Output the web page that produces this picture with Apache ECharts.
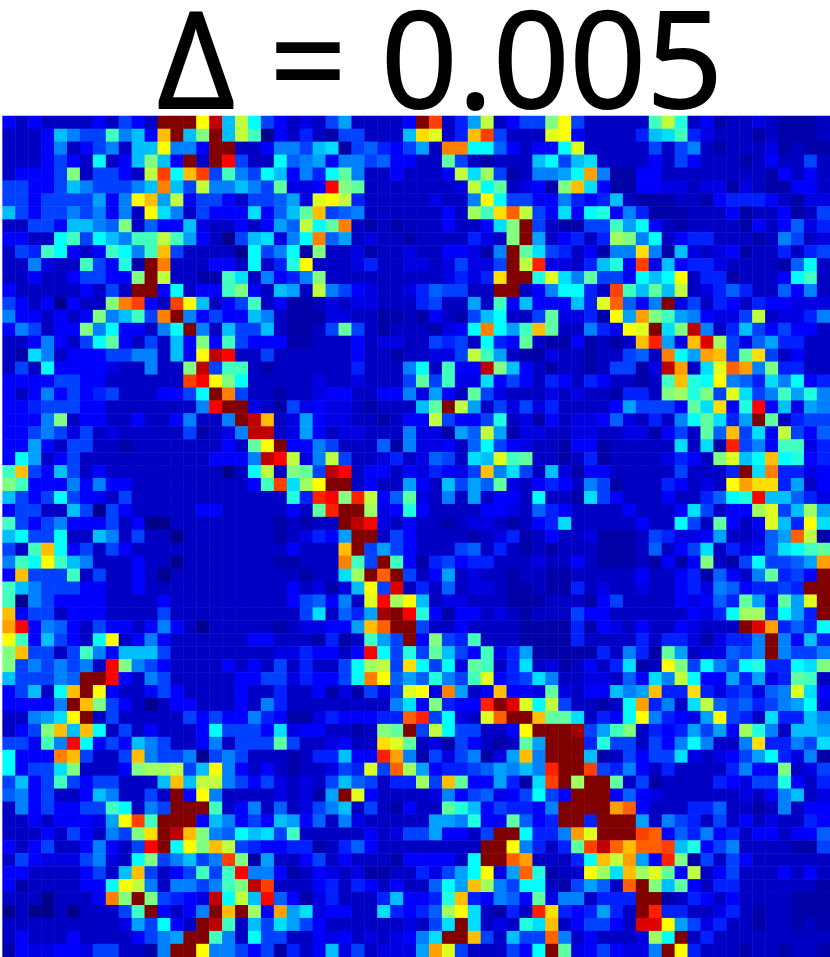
<!DOCTYPE html>
<html>
<head>
<meta charset="utf-8">
<title>heatmap</title>
<script src="https://cdn.jsdelivr.net/npm/echarts@6/dist/echarts.min.js"></script>
<style>
html, body { margin: 0; padding: 0; background: #fff; }
#main { width: 830px; height: 957px; }
</style>
</head>
<body>
<div id="main"></div>
<script>
const titleText = 'Δ = 0.005'
// jet colour stops, one per level 0..16 (low end lifted a little to match the picture)
const jet = ['#00008c','#0000c4','#0000ff','#0040ff','#0080ff','#00bfff','#00ffff','#40ffbf','#80ff80','#bfff40','#ffff00','#ffbf00','#ff8000','#ff4000','#ff0000','#bf0000','#800000']
// levels, one line per row, top row first
const cells = [
[2,1,2,1,1,1,1,2,1,3,2,1,16,16,16,10,15,5,9,6,3, 2,1,1.5,1,3,4.5,1,1,1,1,2,16,13,1,2.5,4.5,9,1,2,3,3, 8,10,3,1,1,1,1,1,7,9,6.5,1,2,.5,1,1,1.5,1,.5,.5,.5,1],
[1,1,1,2,5,4,3,3,7,4,5,2,11,16,5,8,16,5,9,7,0, 2,1,2.5,1,.5,3,3,1,1,1,5,10.5,9.5,1,2.5,11,13,3,1,1,1, 9.5,10,2,1,1,1,1,2.5,5,5.5,7,2.5,1.5,1,1,1,.5,1,.5,.5,.5,1],
[1,1,1,2,4,1,2,3,4,1,5,5,10,4,4,2,16,16,1,1,2, 4,4,3,5,5.5,.5,3,3.5,2.5,2,3,4.5,1,12,12,6,6,3.5,2,1,2, 2,6,9.5,1,1,1,1,1,3,1,3,4,1,.5,1,1,1,1.5,.5,1,.5,.5],
[1,1,1,2,3,2,1,6,1,2,5,8,5,2,16,1,16,14,3,1,1, 6,3.5,4,4.5,2,4,4,3,3.5,2,2,1,1,7.5,3,1,.5,1,1,1,5, 6,3,5,5.5,1,1,1,1,2,1,3,2,1,1,1,.5,1,2,1,1,3,1],
[1,2,2,2,3,8,1,3,3,2,1,9,13,6,11,13,3,7,4,3,6, 5,2,4,2.5,6,7.5,4,1,1,2,1,1,1,2,9,5.5,8.5,3,.5,1,4, 4,4.5,6,11.5,4,.5,.5,2,2,1,1,1,1,1,1,1,1,.5,2,1,2,1],
[3,3,2,2,3,5,4,3,3,3,4,5,12,5,3,9,4,4,5,4,3, 7.5,1.5,1.5,2,14,8,7.5,1,1,1,1,1,1,1,1.5,9,6,7.5,1,1.5,2, .5,8,11,5.5,2,.5,.5,2,2,1.5,1.5,1,1.5,1.5,.5,1.5,1,.5,.5,2,2,1],
[3,3,2,3,3,3,3,4.5,2,4,10,11,4.5,9,2,3,3,2,1,3,3, 3.5,4.5,1.5,9.5,10,9,2.5,1,1,1,1,1,1.5,1,1,4,10,6,3,3,2, 2,4,2.5,2,2.5,5,1,.5,.5,.5,1,1,.5,2,2.5,2.5,2.5,2,1,.5,1.5,1.5],
[5,3,2,3,3,4,3,4,2,4,1,10,5.5,4,1,3,2,2,2,5.5,2, 3.5,5,7.5,11,3,3.5,4,1,1,1,1,1,1,2,1,8.5,7,10.5,12.5,9,3, 2,5.5,2,6,6.5,2,4,2.5,.5,.5,.5,1,1,1,2,.5,1,1,2,.5,1,3],
[1,1,3,3,2,5,5,4,3.5,8,1,3.5,2,2,5,1.5,1,1,2,1,2, 4.5,3.5,9,6,7.5,12,1,.5,1,.5,1,1,1,2,1,1,2,5.5,8,16,3, 1,.5,.5,3,3,7,4.5,6,2,1,.5,1,1,1,1,.5,2,1,2,3.5,1.5,2.5],
[2,2,1,1,6,7,3,6,5,4,7,7,9,7,4.5,2,1,0,3,5,5.5, 1.5,4,6,12,3.5,4.5,1,1.5,1,1,.5,1,1,1,1,2.5,1.5,1,8,16,4.5, 1,2,2.5,1,2.5,8.5,8,4,6,1,2,2.5,2.5,1,1,1,.5,1,4,3,1,1.5],
[1,3,2.5,7,6,2,1,2,7,6,4,7,11,3,1,1,1,1,0,6,3, 4,6,.5,8,1,1,1.5,.5,1,1,1.5,1,1,2,2,1.5,.5,4,16,7.5,5.5, 3,2.5,1,2,.5,4,4,10.5,4,.5,5,1.5,1,1.5,2,.5,1,1,2.5,1,2.5,3],
[1,1,4,1.5,1,1,7,3,2,6.5,.5,16,12,1,1,1,2,2,1,6,1, 2.5,6.5,10,1,1,1,1.5,2.5,1,1,1.5,1.5,1,1.5,3,1.5,1.5,3,16,9,13.5, 1.5,1.5,1,2.5,5,6.5,2,13,1.5,5,2,2.5,2.5,1.5,1,1,1,1,.5,3.5,6,1],
[1,1,2,1,1,2,3,3,2,2,8,16,9,1,1,.5,.5,7,5.5,1,4, 2,2.5,4,8,1,1,1,1,1,1,1,1,1,1.5,2.5,1.5,2.5,10.5,16,16,6.5, 9.5,5.5,4,7.5,3,3,2,6,5,6,10,1,2.5,2.5,.5,1,1,1,2,6,7,1],
[2,1,1,1,1,1,2,1,3,1,16,16,2,6,1,2,2,7,8,2,1, 5,4.5,1,9,4,3,2,1.5,1,1,1.5,2.5,3.5,3,3,1,1,16,16,1,2, 4,6,6,2.5,1,13,7,5,7.5,5,9,1,1.5,2.5,3.5,2.5,1,1,3.5,2,4,1],
[3,2,1,2,0,2,1,1,8,12,13,2,1,13,10,5,1,2,3,7,1, 2,.5,.5,1,1.5,1,1.5,1.5,1,1,1,2.5,3,1,1,4.5,1,7,2,5,2, 2,2,5,2.5,9.5,12.5,3.5,2,4,16,1.5,3,1,2.5,2,1,2.5,2,2,1.5,1.5,1.5],
[4,2,2,1,2,1,2,8,4,5,7,3,12,16,4,2,3,2,2,5,4, 1,.5,.5,.5,1.5,1.5,1,1,.5,.5,1,.5,2,1,.5,3,5,6,1,1,3, 7.5,1.5,1.5,2.5,.5,10,4.5,11.5,8,7,4.5,4,2,1.5,1.5,3,9,1,1.5,1.5,2.5,4],
[2,4,3,1,2,2,8,4,6,2,2,1,4,6,16,4,1,5,3,3,5, 1,.5,.5,1,3,7.5,3,1,.5,1,1,1,.5,1.5,2,6,12,6,4.5,7,11, 7.5,1,1,4,2.5,2,10,9.5,16,5.5,8,15,4,1,2.5,5,3,2,3,2,2,1],
[1,1,2,4,2,1,3,6,7.5,2,1,3,1,5,2,8,2,7,3,2,2, 2,.5,.5,1,1,1,2,1,1.5,1.5,1,1,3,2.5,3,1,6,2.5,2,7.5,1, .5,.5,2,.5,1,.5,1,11,13.5,4.5,1.5,11,14.5,8.5,3,1.5,3.5,4.5,2.5,2.5,1,1],
[1,.5,5.5,4,1,2,2,2,3,3,4,4,1,5,2,10,15,14,1,1,3, 1,1,1,1,1,1,2,1,1,.5,1,1,1.5,1.5,3,9,7,4.5,1,.5,.5, 1.5,1,1,.5,1,1,3,3.5,1,12,6,4.5,11.5,11,3,7.5,10.5,3,1,2,1,1],
[1,3,1,6,2,2,2,2,1.5,1,1,4,1,1,8,15,3,7,7,1,.5, 1,1,1,1,1,1,2.5,1,1,1,4,6,1,7,2,2,15,8,5,2,1, .5,1,1,.5,1,3,3,.5,1.5,15,11.5,1,5.5,9.5,12.5,11.5,4,8,2.5,2.5,1,1],
[2,2,2,2,3,3,2,2,1,1,1,1,1,1,13,14,10,8,6,1,1, 1,1,1,1.5,1,1,1.5,1,1,1,3,7.5,3,7,1.5,1.5,5.5,2,3,2,1, 2.5,2,1,2.5,2,1,1,.5,1,7,11,6.5,6,10,4,3.5,2.5,5.5,4,6,2,2.5],
[2,1,2,4,2,3,2,2.5,3,1,1,1,2,2,3,6,16,12,3,1,1, .5,1,1,1.5,2,2,1,1,2,2,4,1.5,4.5,2,1,7.5,3,1.5,1,1,1, 1.5,1,1.5,1,1,.5,2.5,2.5,1,8,8.5,6.5,8,3,9.5,5.5,3,4,7,4.5,6.5,4],
[2,2,2.5,3,3,3,2,2,1,1,1,1,1,1,1,4,14,16,16,1.5,1, .5,3,1.5,2,1.5,1.5,1,.5,1,1,1,5,7.5,16,9,4.5,1,3,1.5,3,1.5, 2.5,1,1,1,1,2,4.5,3,3,3,2,7.5,5.5,10.5,2,6.5,14,2,5,1.5,4.5,4],
[2,2,2,4,8,1,2,2,1,1,2,1,1,2,4,1,1,4,16,15,11, 1,1.5,4.5,2,1.5,1.5,1,1,.5,1,2,2,9,3,2,2,3,6.5,1,1.5,.5, 2,1,1.5,1.5,2,3.5,1.5,1,2.5,1,4,6,7.5,5.5,2.5,4.5,16,7.5,1,2.5,3,3],
[2,2,3,4,3,1.5,3,1,1.5,1,1,1,1,1,3,.5,1,1.5,4,15,15, 1,1.5,4.5,2,1,1.5,1.5,1,1,1,4,1.5,1.5,.5,4.5,3.5,9,4.5,.5,1.5,1.5, 1,1,1.5,1.5,1,1,1.5,1.5,.5,2,3,1,7.5,3.5,11,3,5.5,2,9,3,2,3.5],
[2,2,4.5,2,1,3,3,1,1,.5,1,1,1,1,1,1,1,2,1,7.5,10, 16,2,2,4,3,1,1,1,3.5,.5,4,1.5,1.5,2,1,3.5,6,3,2,1.5,1, 1,.5,2,2,.5,1,1,1,1,1,5.5,1,5.5,.5,13.5,3,4,2,7,7,1.5,2.5],
[2,6,4.5,1,2,3,1,1,1,1,1,1,1,1,1,1,2,2,2,4,15, 14,9,1.5,4,9,3,1,1,1.5,2.5,1,1.5,3.5,3,1,5.5,5,9.5,7,7.5,1, 1,.5,1,2.5,.5,1,1,1,1,1.5,2.5,2,1,8,9.5,5,6,11,6,6.5,2,2.5],
[7,11,3,2,5,3,1,2,1,1,1,1,1,1,1,1,1,0,1,6,9, 1,8,7.5,3,15,14,1,2,2,1,2,1.5,2.5,2,1.5,3,11,4,5.5,3,1, 5,1.5,.5,2,2,1,1,1,1,1,3,1,1,1,2.5,16,5.5,12,2.5,2.5,1.5,2],
[8,7,2,2,2,4,2,4,2,2,1,1,1,1,1,1,1,1,1,2,7, 13,5.5,8.5,10,16,16,1,2,1,1,4.5,2,1,5,3,4.5,3.5,7.5,1.5,1,2, 2.5,2,1,4,3,.5,1,1,1,2.5,2,1,1.5,1,10,11.5,10.5,10.5,2.5,4.5,1,2],
[5,3,2,3,6,3,2,2,1,3,1,1,1,1,1,1,1,1,1,1,1, 1,6.5,2.5,13.5,14,8,13.5,9,2,3.5,7.5,1.5,1,4,1,4.5,1,2,2,1,6, 1,1,.5,5.5,3,2,1,1,1,2,1,1,2.5,3.5,6,6.5,14,5,5,3.5,2.5,1.5],
[2,3,3,1,1,5,3,0,3,2,1,1,1,1,1,2,2,1,1,1,1, 1,2,1,7.5,13.5,16,16,8.5,1.5,2,6.5,2,1,1,1,1,2,2,1.5,1,3.5, 2.5,2,1,1,1,1,2,1,1,1,2,5.5,3,1,2,2,8.5,9.5,3,5,8.5,4.5],
[7,3,2,3,4,2,2,2,3,1,2,0,0,1,1,1,1,1,1,1,1, .5,1,.5,1,1,16,15,14,1.5,1,2,1,1,.5,1,1.5,1.5,1,.5,1,2, 2.5,5.5,1,1,1,1,1,2,1,1,6,3,1,7.5,2,1,2,9.5,5,2.5,10,5.5],
[5,6,3,3,6,1,1,5,4,1,3,1,1,0,1,1,1,1,1,1,1, .5,1,1.5,2.5,2,4.5,16,16,1,3,2,1,1,1,1,.5,1,1.5,2.5,.5,1, 2,1,1,1.5,.5,.5,.5,1,3,2.5,1.5,1.5,2,4.5,1,1,1.5,3.5,4.5,12.5,9,.5],
[3,1,7,11,6,2,3,1,3,2,1,1,1,1,1,1,1,1,1,1,1, 1,2,1,1,1,11,16,3,4.5,3,2,1,1,1,3,3.5,1,2.5,1,.5,1, .5,1,1,1,.5,.5,.5,1,3.5,1,2,3,5.5,1,2.5,1.5,2,3.5,5.5,6,7,7.5],
[4,7,6,10,7,5,4,1,1,1,2,1,1,0,1,1,1,1,1,1,1, .5,.5,1,1,1,12,7,3,16,7,2,.5,2.5,3,2,2.5,2.5,1,1,1,1.5, 1,1,2,1,.5,.5,.5,1,.5,2,.5,2,8,1,.5,3,6,3,3,3.5,4.5,11.5],
[2,11,3,3,3,7,1,3,1,1,2,1,0,1,1,1,1,1,1,1,1, 1,1,.5,1,1,5.5,8.5,16,12.5,16,3,1,2,4.5,1,1.5,1,1,.5,1,1, .5,.5,1,1,1,1,1,2,1,1,2,2.5,.5,3.5,2,1,4,7.5,2.5,3,2,16],
[7,5,4,3,3,3,2,2,1,1,2,1,1,1,1,1,1,1,1,1,1, 1,2,1,1.5,.5,1.5,5,10,3,14.5,1,2.5,1,3.5,1,1.5,1.5,1,.5,.5,1, .5,.5,2.5,1,1.5,1,1,1.5,1,1,2,2.5,1.5,4,3.5,2,2.5,2.5,3,2.5,16,16],
[7,0,4,3,2,2,2,2,1,1,1,1,2,1,1,1,1,1,1,1,1, 1,2,3,3.5,2,4,1,9.5,14,8.5,10,5,1,1.5,1.5,1,1,1,.5,.5,.5, 1,1,1,.5,2,3,1,1,1,1,2,1.5,2,3.5,2.5,7.5,4.5,2,7.5,4.5,9.5,16],
[11,2,3,3,1,2,2,2,1,1,1,1,3,1,1,1,1,1,1,1,1, 1,1,3,5.5,1,3.5,2.5,4.5,15.5,16,14,6.5,2,.5,2,2,1,1.5,1,.5,1, 1,1,3,2,2,1,1,1,1,1,1,2,1.5,2.5,6,8.5,8.5,2.5,6,4.5,2.5,16],
[11.5,14,2,4,3.5,2,1,3,2,2,1,2,4,2,1,0,1,1,1,1,1, .5,1,1.5,1.5,2,2,4.5,11,12.5,16,16,3,1,1,2,1,1,1,1,.5,.5, .5,.5,2.5,.5,2,1.5,1,2,1,1,2,1.5,1,1,1,16,14.5,11.5,2.5,3.5,2.5,6],
[10,7,2,5,3,2,1,6,10,1,2,4,2,1,1,1,1,1,1,2,2, 1,1,1,.5,2.5,.5,1,7,4.5,3,16,2,8,3,2.5,7,1,1,1,.5,.5, .5,.5,2.5,1,1,1,1,2.5,1,2.5,2.5,1.5,.5,1.5,2.5,2.5,4,16,4,2,5,2.5],
[8,11,3,3,1,3,7,4,2,5,5,5,3,1,1,1,1,1,1,1,1, 1.5,1.5,2.5,2,2,1,2,14,6,3,6.5,3,7.5,5,3,2,7,1.5,2.5,4.5,.5, .5,.5,.5,.5,2.5,1,4,2.5,.5,7.5,4.5,1,1.5,1.5,3.5,3,4,16,4,3,3,4],
[8,3,4,3,4,3,4,1,14,8,4,3,2,1,1,1,1,2,1,2,1, 3,1,2.5,1,1,3,6,8.5,9,3,10.5,6,3,6,1.5,7.5,7,1,2.5,5.5,1, 1.5,.5,1,2,1,2.5,5.5,.5,1,10,8,3,6,4,3,6,6.5,2.5,2.5,6,5.5,8],
[5,3,3,3,4,3.5,16,16,14,2,1,4,3,1,1,1,1,1,2,2,3, 3,1.5,2.5,2,2,3,6,12,10,3.5,4.5,3.5,6.5,4,3,7,9.5,2,2.5,3,5.5, 4,1,1,1.5,1.5,1,3.5,2,5.5,4,9,6,2,2,4.5,2.5,4.5,1.5,2.5,7.5,7,1],
[2,3,5,1,6,11,16,10,2,1,1,2,3,2,1,1,1,1,2,1,1, 2.5,1,1,2,.5,1.5,.5,3,1.5,3,9.5,10,1.5,12,4.5,1,2,11,2,2,1.5, 7.5,1.5,1,2,2,5,4,4.5,11,2.5,2.5,10.5,2.5,1.5,2.5,3,1.5,3.5,4,9.5,5.5,2],
[2,2,2,2,4,16,11,8,3,2,1,0,1,2,2,1,1,1,2,1,4, 2.5,1,1,1,1,1,1,1,1,4,5.5,2,8,2.5,2,2,13.5,16,14.5,9.5,6, 9,3,1,1,.5,1,6,11.5,2.5,4,1,5.5,9,3.5,3,3.5,2.5,3,4,4.5,6,1.5],
[1,1,4,4.5,5.5,10,16,1,3,1,1,1,1,1,3,2,3,2,2,4,2.5, 2,.5,.5,1.5,2.5,2,2,2,2.5,2.5,12.5,13.5,3,6,1.5,1,9.5,12.5,16,16,11, 7.5,7.5,5.5,1,2.5,2,6,10,4,2.5,2,1.5,4.5,10,3,2.5,1,5.5,2.5,2.5,5,4],
[1,2,3,8,11,5,11,6,1,3,1,2,1,1,1,2,6,3,3,3,2, 5.5,1.5,2,2,1,1,.5,1,8,7.5,16,3,9,6,3,3,1,1,2,10,16, 16,16,15.5,3,4.5,7,8,1,2.5,2,2.5,4.5,3,4.5,2,8.5,6.5,4,1,5,5,4.5],
[3,3,2,7,4,14,6,2,3,2,5,4,3,1,1,2,4,1,3,3,3, 7.5,3,1,1,1.5,2,1,1,10.5,9.5,7.5,1,1.5,.5,3,2,1,.5,1,7.5,4.5, 16,16,16,2.5,6.5,3,3,1,3,2,4,6,4,1,1,4,10.5,2.5,2.5,4,3,5.5],
[6,2,2,2,12,11,3,1,1,3,11,4,3,3,4,0,3,4,3,1,1, 1,.5,1,2.5,2.5,5,2,2,13.5,11.5,4,.5,3,1.5,3,4,.5,1.5,4.5,11,4, 16,16,16,5,.5,1,3,2,3,3,5.5,1.5,1,1.5,2,3,4.5,6,2.5,1.5,4,.5],
[6,2,3,3,5.5,8,1,1,1,2,8,8.5,8.5,9,3,5,10,4,2,1,2, 1,.5,1,1,1.5,3,2.5,9.5,3,12.5,8.5,4.5,2,2.5,2.5,3,3.5,4.5,4,5,4, 13.5,16,16,13,3,2.5,4,2,1,2.5,1,1,1,1,2.5,4,2,2,8,1,1.5,3],
[3,5,2,3,7,3,2,3,3,1,1,1,5,11,5,9,9,4,3,2,3, 1.5,1,1.5,1,3,5,3.5,3,1,2.5,2.5,8.5,3,11,7.5,2,2,4.5,2.5,.5,5.5, 13,16,8.5,16,16,7.5,1,3,.5,1,1,1,1,2.5,2,1.5,3,3,6.5,2,1,2.5],
[3.5,4,2,3,1,1,2,5,4,1,1,3,1,16,2,10,4,1,1,1,1, 1.5,1,1.5,.5,4.5,16,9.5,2,1,1,1,1,1.5,4,2,3,3.5,1.5,2,3,6, 3,2,16,16,16,2,3.5,2,1.5,1,1,1,1,1,1,1.5,1,2,4,5,1,1.5],
[1,4,2,3,2,2,3,3,7,6,1,4,3,16,16,16,7,1,2,4,1, 3.5,1,1.5,3,4,5,1,3,1,.5,2,1,1,7.5,6.5,5,2,3,2.5,2.5,2, 4,16,16,16,16,11.5,12.5,2,1,1,1,2.5,2.5,3.5,1,1,.5,1,4,1,2,2],
[1,1,2,1,2,2,2,1.5,4.5,10,13,7,16,16,16,2,5,4,2,3,2, 5,4.5,2,3.5,1,4,1.5,1,1,1,1,1,4.5,4.5,4,6.5,2,2,7.5,3.5,2, 2.5,16,16,2.5,16,16,16,4.5,1,4,3,2.5,1,3,1,2,1,1.5,1,1,2.5,2],
[1,1,1,2,1,3,2,1,4,3,8,10.5,16,15,11,8,4,3.5,6,5,5.5, 3,7,1,1,1,1,1,2,1,1.5,3,3,4.5,2,2,1,3,16,16,6,2.5, 2.5,4,11.5,9.5,16,16,16,13,12.5,2,3.5,2.5,4,2,2.5,1,2,2,1,2,2,3.5],
[2,1,2,3,1,1,2,4,2,1,3,14,16,6,10,8,11,9,3,2.5,2, 2,2.5,2.5,.5,1,2.5,3.5,2,1,1,1,1,1,1,1,1,16,16,10,4,2.5, 1,2.5,7.5,13,15,12.5,11,12.5,12.5,13,5,6.5,2,3,4,1,1,1,1,.5,.5,3],
[1,3,2,1.5,1.5,1.5,3,4,1.5,1,6,8,3,4,5,3,4,13,8,.5,4.5, 1,1,2,3,1,2,1,1,1,.5,2,2,2,2,1,6,16,16,12.5,11.5,1, 1,1,2.5,6,11,9,11.5,4.5,2,13.5,8,.5,3,1,3,2,1,1,1,1,1,1],
[2,2,1,1,1,1,2,3,1,5,11,3,1,2,3,7,3,7,14,4,4, 2,.5,1,2,1.5,1,1.5,.5,.5,1,1,2.5,1.5,3,4.5,6,10,1.5,4.5,12.5,6.5, .5,1,1,10,8.5,5.5,11,8.5,9.5,7.5,2,9,1,2,3,1,1,1,2,1,2,1],
[2,.5,1,1,1,1,2,2,6,10,9,4,1,4,4,3,4,7,8,15,13, 1,1,1,2,2.5,1,2.5,2,1,2,1,1,3.5,6,4.5,11,8.5,4,3,6,6, 1,.5,3,4.5,3.5,1,12.5,16,8,5,7.5,2,1,2.5,2.5,1,1,1,1,1,1,.5],
[1,1,1,0,1,1,1,2,12,8,16,8,3,2.5,2,1.5,15,6,9,5,14, 3.5,2,.5,1.5,2.5,1,1,1,2.5,5,2,2,2.5,6.5,11,2.5,2,4,3.5,2,7.5, 1.5,4,4,1,2.5,2.5,2.5,16,16,.5,1,2.5,2,1,2,1,1,1,1,.5,.5,.5],
[0,1,0,0,1,0,1,1,1,3,7,16,2,1,2,4,16,11,16,8.5,2, 11.5,4.5,5.5,1.5,2,2,1,1,5.5,2.5,2,2.5,3.5,8.5,10,5.5,1,.5,2.5,1,13.5, 10.5,2.5,2,2.5,4.5,2.5,1,16,13.5,2.5,2.5,1,1,1.5,2.5,1,.5,1,1,.5,.5,.5],
[1,1,1,1,1,1,1,1,1,1.5,4.5,3,6,2,1,16,15,7,1,5,3, 5.5,4.5,3,2,1,1,1,1,1,1,1.5,1,3,5.5,16,5.5,1,1.5,1,6.5,5.5, 11,1,2,3,3,2,1,14.5,14.5,10,4.5,3,1.5,2.5,1,1,.5,1,1,.5,1,.5],
[1,2,1,1,1,2,1,1,1,1,2,3,4,4.5,16,16,7,4,1,6,3, 3,1,1,2,1.5,2,1,1.5,1,1.5,2,4,5.5,16,16,11,3,1,5,3,3, 12.5,4,1,2,1,1,1,1.5,8.5,6,16,1,2.5,1,1,1,1,1,1,1,1,1],
[.5,2,1.5,1.5,2,2,1.5,3,3,1,1,.5,4,16,16,10,4,4,3,2,3, .5,2.5,1,2,5,1.5,3,1,1.5,1.5,1.5,4.5,11.5,9.5,3,1,1,1,3,2,6, 16,7.5,1.5,2,3,2,1.5,1.5,4,16,10,2.5,1,1,1,.5,1,1,.5,1,1,.5]
]

const chart = echarts.init(document.getElementById('main'), null, { renderer: 'canvas' })

const seriesData = []
cells.forEach((row, y) => {
  row.forEach((v, x) => { seriesData.push([x, y, v]) })
})

chart.setOption({
  animation: false,
  backgroundColor: '#fff',
  title: {
    text: titleText,
    left: 435,
    top: -2,
    textAlign: 'center',
    textStyle: { color: '#000', fontFamily: 'Open Sans', fontWeight: 'normal', fontSize: 134, textBorderColor: '#000', textBorderWidth: 2 }
  },
  grid: { left: 2.6, top: 116, width: 827.6, height: 841 },
  xAxis: { type: 'category', data: cells[0].map((_, i) => i), show: false },
  yAxis: { type: 'category', data: cells.map((_, i) => i), inverse: true, show: false },
  visualMap: { show: false, min: 0, max: 16, dimension: 2, inRange: { color: jet } },
  series: [{
    type: 'heatmap',
    data: seriesData,
    progressive: 0,
    itemStyle: { borderWidth: 0 }
  }]
})
</script>
</body>
</html>
